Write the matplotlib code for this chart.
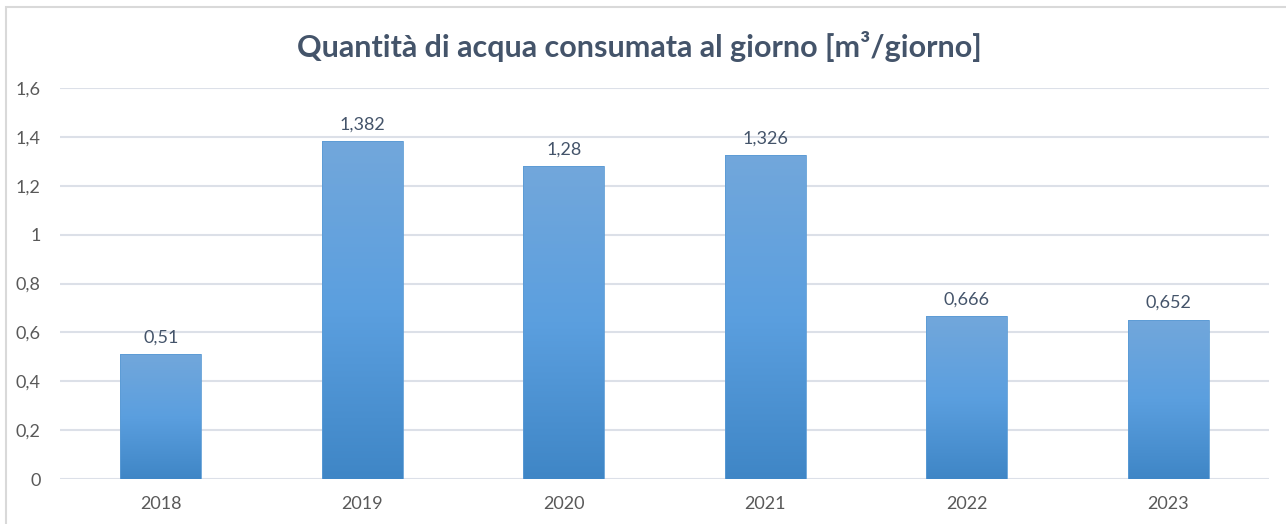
import matplotlib.pyplot as plt
import numpy as np
from matplotlib.patches import Rectangle

years = ["2018", "2019", "2020", "2021", "2022", "2023"]
consumo = [0.51, 1.382, 1.28, 1.326, 0.666, 0.652]
etichette = ["0,51", "1,382", "1,28", "1,326", "0,666", "0,652"]
yticks = [0, 0.2, 0.4, 0.6, 0.8, 1.0, 1.2, 1.4, 1.6]
ytick_labels = ["0", "0,2", "0,4", "0,6", "0,8", "1", "1,2", "1,4", "1,6"]

plt.rcParams["font.family"] = ["Lato", "DejaVu Sans"]

fig = plt.figure(figsize=(12.86, 5.24), dpi=100)

# chart frame (cut off on the right and bottom like the screenshot)
fig.patches.append(Rectangle((6 / 1286, -0.05), 1.1, 0.05 + 517 / 524, transform=fig.transFigure,
                             facecolor="none", edgecolor="#D9D9D9", linewidth=1.5))

ax = fig.add_axes([60 / 1286, 45 / 524, 1209 / 1286, 391 / 524])

x = np.arange(len(years))
bars = ax.bar(x, consumo, width=0.40, color="none", edgecolor="#5B9BD5", linewidth=0.6, zorder=3)

# vertical gradient inside each bar
grad = np.linspace(0, 1, 256).reshape(-1, 1)
cmap = plt.matplotlib.colors.LinearSegmentedColormap.from_list("g", ["#3F86C6", "#5B9FDF", "#72A7DB"])
for b in bars:
    x0, w, h = b.get_x(), b.get_width(), b.get_height()
    im = ax.imshow(grad, cmap=cmap, aspect="auto", origin="lower",
                   extent=(x0, x0 + w, 0, h), zorder=2)
    im.set_clip_path(b)

for xi, v, lab in zip(x, consumo, etichette):
    ax.text(xi, v + 0.035, lab, ha="center", va="bottom", fontsize=13, color="#44546A")

ax.set_xlim(-0.5, len(years) - 0.5)
ax.set_ylim(0, 1.6)
ax.set_xticks(x)
ax.set_xticklabels(years)
ax.set_yticks(yticks)
ax.set_yticklabels(ytick_labels)
ax.tick_params(length=0, labelsize=13, colors="#595959")
ax.tick_params(axis="x", pad=12)
ax.tick_params(axis="y", pad=14)
ax.grid(axis="y", color="#DCE0E8", linewidth=1.5, zorder=0)
ax.set_axisbelow(True)
for s in ax.spines.values():
    s.set_visible(False)

fig.text(0.497, 1 - 47 / 524, "Quantità di acqua consumata al giorno [m³/giorno]",
         ha="center", va="center", fontsize=22, fontweight="bold", color="#44546A")

fig.savefig("out.png", dpi=100)
